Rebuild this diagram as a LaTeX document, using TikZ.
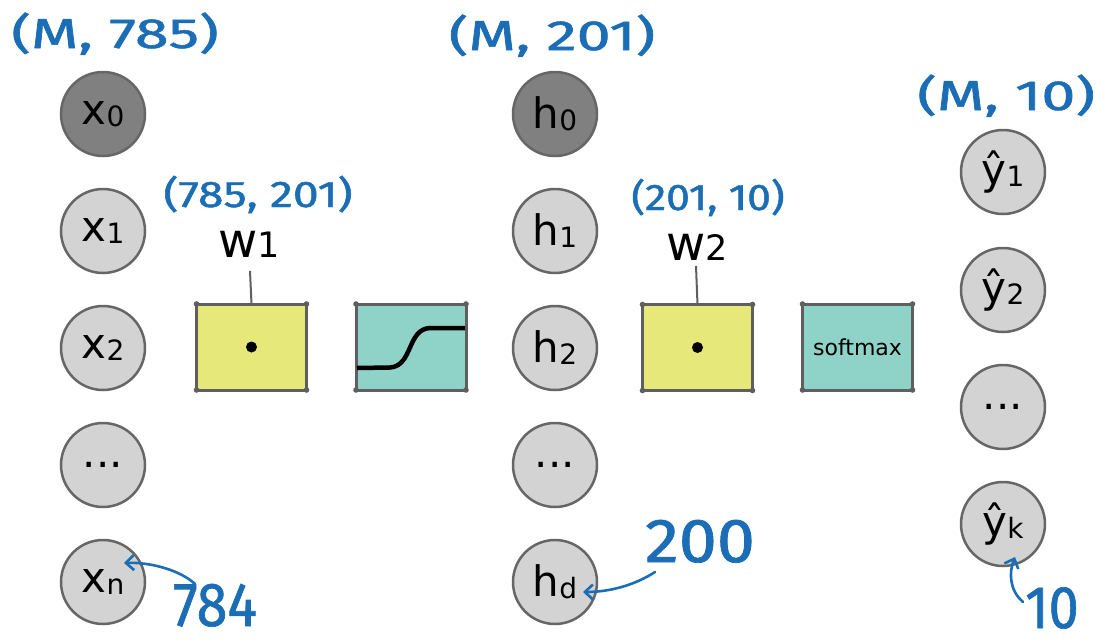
\documentclass[tikz,border=0pt]{standalone}
\usepackage{fontspec}
\usepackage{graphicx}
\setmainfont{DejaVu Sans}
\newfontfamily\hand[FakeBold=1.2]{Fira Sans}
\usetikzlibrary{arrows.meta}
\definecolor{hblue}{HTML}{1B6EB5}
\definecolor{cfill}{HTML}{D3D3D3}
\definecolor{cdark}{HTML}{808080}
\definecolor{cline}{HTML}{666666}
\definecolor{byel}{HTML}{E6E87A}
\definecolor{bteal}{HTML}{8FD3C8}
\definecolor{bline}{HTML}{5F5F5F}
\newcommand\hwlab[3]{\scalebox{#1}[1]{\fontsize{#2}{#2}\hand #3}}
\newcommand\nsub[1]{\raisebox{-2pt}{\fontsize{28}{28}\selectfont #1}}
\tikzset{
  neuron/.style={circle, draw=cline, line width=2.5pt, fill=cfill, minimum size=84pt, inner sep=0pt, font=\fontsize{42}{42}\selectfont},
  dneuron/.style={neuron, fill=cdark},
  opbox/.style={draw=bline, line width=3pt, minimum width=110pt, minimum height=86pt, inner sep=0pt, outer sep=0pt},
  bluelab/.style={text=hblue, inner sep=0pt, anchor=base},
  handarrow/.style={draw=hblue, line width=2.6pt, -{Straight Barb[length=8pt,width=15pt]}, line cap=round},
  wlab/.style={anchor=base, inner sep=0pt},
  stem/.style={draw=bline, line width=2pt}
}
\begin{document}
\begin{tikzpicture}[x=1pt,y=-1pt]
\useasboundingbox (0,0) rectangle (1096,643);
\clip (0,0) rectangle (1096,643);
% input layer
\node[dneuron] (x0) at (103,114) {x\nsub{0}};
\node[neuron] (x1) at (103,231) {x\nsub{1}};
\node[neuron] (x2) at (103,348) {x\nsub{2}};
\node[neuron] (xdots) at (103,465) {...};
\node[neuron] (xn) at (103,582) {x\nsub{n}};
% hidden layer
\node[dneuron] (h0) at (555,114) {h\nsub{0}};
\node[neuron] (h1) at (555,231) {h\nsub{1}};
\node[neuron] (h2) at (555,348) {h\nsub{2}};
\node[neuron] (hdots) at (555,465) {...};
\node[neuron] (hd) at (555,582) {h\nsub{d}};
% output layer
\node[neuron] (y1) at (1003,172) {ŷ\nsub{1}};
\node[neuron] (y2) at (1003,290) {ŷ\nsub{2}};
\node[neuron] (ydots) at (1003,407) {...};
\node[neuron] (yk) at (1003,524) {ŷ\nsub{k}};
% boxes
\node[opbox, fill=byel] (mul1) at (251.5,347) {};
\node[opbox, fill=bteal] (act1) at (411,347) {};
\node[opbox, fill=byel] (mul2) at (697.5,347.5) {};
\node[opbox, fill=bteal, font=\fontsize{22}{22}\selectfont] (act2) at (857.5,347) {softmax};
\fill (mul1.center) circle (5.5pt);
\fill (mul2.center) circle (5.5pt);
\draw[line width=4.5pt] (357,368) -- (390,367.5) .. controls (413,366) and (407,329) .. (430,328) -- (465,328);
\foreach \b in {mul1,act1,mul2,act2}
  \foreach \a in {north west, north east, south west, south east}
    \fill[bline] (\b.\a) circle (2.8pt);
% weight labels
\node[wlab] (w1) at (249,257) {\fontsize{48}{48}\selectfont w\fontsize{35}{35}\selectfont 1};
\node[wlab] (w2) at (697,260) {\fontsize{48}{48}\selectfont w\fontsize{35}{35}\selectfont 2};
\coordinate (w1foot) at (250,271);
\coordinate (w2foot) at (696,266);
\draw[stem] (mul1.north) -- (w1foot);
\draw[stem] (mul2.north) -- (w2foot);
% blue shape labels
\node[bluelab] (l1) at (115,48) {\hwlab{1.45}{42}{(M, 785)}};
\node[bluelab] (l2) at (258,207) {\hwlab{1.25}{37}{(785, 201)}};
\node[bluelab] (l3) at (552,50) {\hwlab{1.45}{42}{(M, 201)}};
\node[bluelab] (l4) at (708,210) {\hwlab{1.15}{37}{(201, 10)}};
\node[bluelab, anchor=base west] (l5) at (917,110) {\hwlab{1.45}{42}{(M, 10)}};
\node[bluelab] (l6) at (215,626) {\hwlab{0.9}{62}{784}};
\node[bluelab] (l7) at (700,562) {\hwlab{1.1}{62}{200}};
\node[bluelab] (l8) at (1052,628) {\hwlab{0.9}{60}{10}};
% hand arrows
\coordinate (s784) at (195,584);
\coordinate (t784) at (124,563);
\coordinate (s200) at (655,572);
\coordinate (t200) at (583,592);
\coordinate (s10) at (1023,602);
\coordinate (t10) at (1015,557);
\draw[handarrow] (s784) .. controls (180,570) and (150,562) .. (t784);
\draw[handarrow] (s200) .. controls (635,585) and (610,592) .. (t200);
\draw[handarrow] (s10) .. controls (1009,590) and (1009,572) .. (t10);
\end{tikzpicture}
\end{document}
